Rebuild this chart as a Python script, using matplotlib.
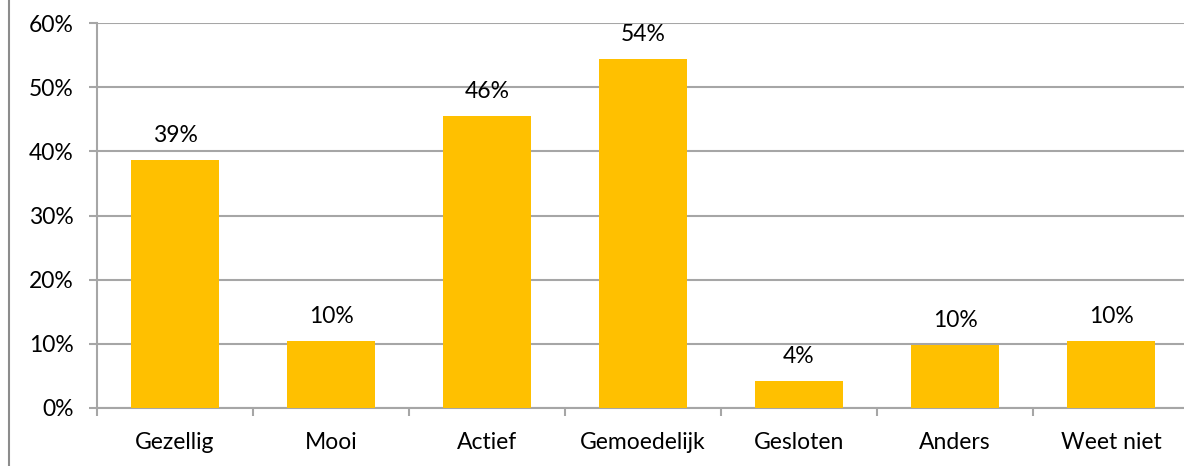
import matplotlib
matplotlib.use("Agg")
import matplotlib.pyplot as plt
from matplotlib.lines import Line2D
import numpy as np

categories = ["Gezellig", "Mooi", "Actief", "Gemoedelijk", "Gesloten", "Anders", "Weet niet"]
values = [38.6, 10.4, 45.5, 54.4, 4.2, 9.8, 10.4]
labels = ["39%", "10%", "46%", "54%", "4%", "10%", "10%"]
yticks = [0, 10, 20, 30, 40, 50, 60]

plt.rcParams['font.family'] = ['Lato', 'DejaVu Sans']
FS = 16.5

W, H = 1184, 466
fig = plt.figure(figsize=(W / 100, H / 100), dpi=100)
left, right, bottom, top = 97, 1189, 408, 23
ax = fig.add_axes([left / W, (H - bottom) / H, (right - left) / W, (bottom - top) / H])

grid_c = "#A6A6A6"
x = np.arange(len(categories))
ax.bar(x, values, width=0.57, color="#FFC000", zorder=3)

for xi, v, lab in zip(x, values, labels):
    ax.annotate(lab, (xi, v), xytext=(0, 14), textcoords="offset pixels",
                ha="center", va="bottom", fontsize=FS, color="#000000")

ax.set_xlim(-0.5, len(categories) - 0.5)
ax.set_ylim(0, 60)
ax.set_yticks(yticks)
ax.set_yticklabels([f"{t}%" for t in yticks], fontsize=FS)
ax.yaxis.grid(True, color=grid_c, linewidth=1.5, zorder=0)
ax.set_axisbelow(True)

ax.set_xticks(np.arange(len(categories) + 1) - 0.5)
ax.set_xticklabels([])
ax.set_xticks(x, minor=True)
ax.set_xticklabels(categories, minor=True, fontsize=FS)
ax.tick_params(axis="x", which="minor", length=0, pad=17.5)
ax.tick_params(axis="x", which="major", length=6, width=1.5, color=grid_c)
ax.tick_params(axis="y", length=6, width=1.5, color=grid_c, pad=11)

for s in ["top", "right"]:
    ax.spines[s].set_visible(False)
for s in ["left", "bottom"]:
    ax.spines[s].set_color(grid_c)
    ax.spines[s].set_linewidth(1.5)

fig.add_artist(Line2D([8.5 / W, 8.5 / W], [0, 1], color="#8C8C8C", linewidth=1.5,
                      transform=fig.transFigure))

fig.savefig("out.png", dpi=100)
